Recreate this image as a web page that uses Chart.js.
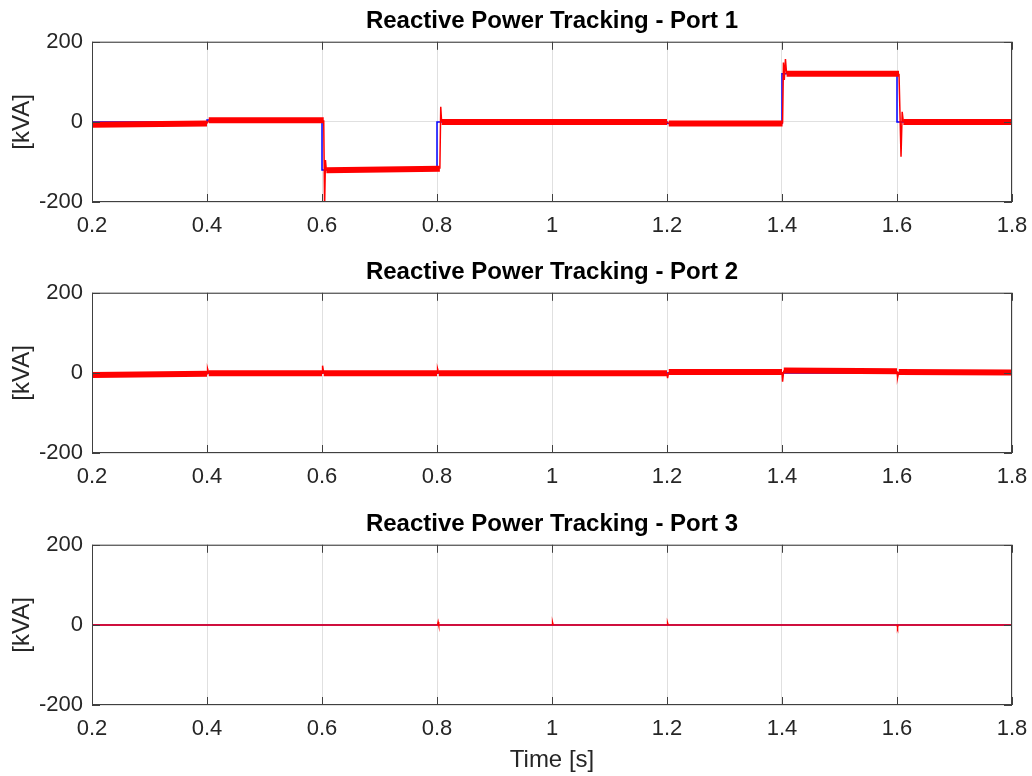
<!DOCTYPE html>
<html>
<head>
  <title>Reactive Power Tracking</title>
  <script src="https://cdn.jsdelivr.net/npm/chart.js"></script>
  <style>
    body { margin: 0; background: #fff; }
    canvas { position: absolute; left: 0; }
  </style>
</head>
<body>
  <canvas id="port1" width="1032" height="252" style="top:0px"></canvas>
  <canvas id="port2" width="1032" height="252" style="top:251px"></canvas>
  <canvas id="port3" width="1032" height="273" style="top:503px"></canvas>

  <script>
    const xTicks = [0.2, 0.4, 0.6, 0.8, 1.0, 1.2, 1.4, 1.6, 1.8];
    const yTicks = [-200, 0, 200];

    // Port 1 - reference (blue) and measured (red)
    const refTime1 = [0.2, 0.4, 0.4, 0.6, 0.6, 0.8, 0.8, 1.2, 1.2, 1.4, 1.4, 1.6, 1.6, 1.8];
    const refQ1 = [0, 0, 5, 5, -120, -120, 0, 0, -4, -4, 120, 120, 0, 0];
    const measTime1 = [0.2, 0.4, 0.403, 0.603, 0.6045, 0.606, 0.6075, 0.805, 0.8065, 0.808, 1.2, 1.203,
                       1.401, 1.4025, 1.404, 1.406, 1.408, 1.6035, 1.607, 1.609, 1.611, 1.8];
    const measQ1 = [-7, -4, 4, 4, -215, -95, -121, -117, 38, 0, 0, -4,
                    -4, 148, 105, 157, 120, 120, -87, 25, 0, 0];

    // Port 2
    const refTime2 = [0.2, 1.8];
    const refQ2 = [0, 0];
    const measTime2 = [0.2, 0.4, 0.401, 0.403, 0.6, 0.601, 0.603, 0.8, 0.801, 0.803,
                       1.2, 1.201, 1.203, 1.4, 1.401, 1.403, 1.6, 1.601, 1.603, 1.8];
    const measQ2 = [-5, -2, 10, -1, -1, 18, -1, -1, 10, -1,
                    -1, -13, 2, 2, -22, 6, 4, -12, 2, 1];

    // Port 3
    const refTime3 = [0.2, 1.8];
    const refQ3 = [0, 0];
    const measTime3 = [0.2, 0.801, 0.802, 0.803, 1.0, 1.001, 1.002, 1.2, 1.201, 1.202, 1.6, 1.601, 1.602, 1.8];
    const measQ3 = [0, 0, 7, 0, 0, 6, 0, 0, 5, 0, 0, -6, 0, 0];

    Chart.defaults.font.family = "'Liberation Sans', Arial, sans-serif";
    Chart.defaults.color = '#262626';

    // draws the axes box and the inward tick marks like matlab
    const boxPlugin = {
      id: 'box',
      afterDraw(chart) {
        const ctx = chart.ctx;
        const a = chart.chartArea;
        const x = chart.scales.x;
        const y = chart.scales.y;
        ctx.save();
        ctx.strokeStyle = '#404040';
        ctx.lineWidth = 1;
        ctx.strokeRect(a.left + 0.5, a.top + 0.5, a.right - a.left - 1, a.bottom - a.top - 1);
        ctx.beginPath();
        xTicks.forEach(v => {
          const px = Math.round(x.getPixelForValue(v)) + 0.5;
          ctx.moveTo(px, a.bottom); ctx.lineTo(px, a.bottom - 8);
          ctx.moveTo(px, a.top); ctx.lineTo(px, a.top + 8);
        });
        yTicks.forEach(v => {
          const py = Math.round(y.getPixelForValue(v)) + 0.5;
          ctx.moveTo(a.left, py); ctx.lineTo(a.left + 8, py);
          ctx.moveTo(a.right, py); ctx.lineTo(a.right - 8, py);
        });
        ctx.stroke();
        ctx.restore();
      }
    };

    function toPoints(times, values) {
      return times.map((t, i) => ({ x: t, y: values[i] }));
    }

    function makeChart(id, title, refT, refQ, measT, measQ, bandWidth, xTitle, xHeight) {
      new Chart(document.getElementById(id).getContext('2d'), {
        type: 'line',
        data: {
          datasets: [
            {
              label: 'Measured',
              data: toPoints(measT, measQ),
              borderColor: '#ff0000',
              borderWidth: bandWidth,
              pointRadius: 0,
              tension: 0,
              clip: 0,
              order: 1,
              // ripple band on steady parts, thin line on the transients
              segment: {
                borderWidth: c => (c.p1.parsed.x - c.p0.parsed.x > 0.02 ? bandWidth : 1.5)
              }
            },
            {
              label: 'Reference',
              data: toPoints(refT, refQ),
              borderColor: '#0000ff',
              borderWidth: 1.5,
              pointRadius: 0,
              tension: 0,
              clip: 0,
              order: 2
            }
          ]
        },
        options: {
          responsive: false,
          animation: false,
          layout: { padding: { left: 0, right: 20, top: 0, bottom: 0 } },
          plugins: {
            legend: { display: false },
            tooltip: { enabled: false },
            title: {
              display: true,
              fullSize: false,
              text: title,
              color: '#000',
              font: { size: 24, weight: 'bold' },
              padding: { top: 7, bottom: 6 }
            }
          },
          scales: {
            x: {
              type: 'linear',
              min: 0.2,
              max: 1.8,
              afterBuildTicks: s => { s.ticks = xTicks.map(v => ({ value: v })); },
              afterFit: s => { s.height = xHeight; s.paddingLeft = 0; s.paddingRight = 0; },
              grid: { color: '#e0e0e0', drawTicks: false },
              border: { display: false },
              ticks: {
                color: '#262626',
                font: { size: 22 },
                padding: 11,
                maxRotation: 0,
                autoSkip: false,
                callback: v => String(Math.round(v * 10) / 10)
              },
              title: {
                display: xTitle,
                text: 'Time [s]',
                color: '#262626',
                font: { size: 24 },
                padding: { top: 0, bottom: 1 }
              }
            },
            y: {
              min: -200,
              max: 200,
              afterBuildTicks: s => { s.ticks = yTicks.map(v => ({ value: v })); },
              afterFit: s => { s.width = 92; s.paddingTop = 0; s.paddingBottom = 0; },
              grid: { color: '#e0e0e0', drawTicks: false },
              border: { display: false },
              ticks: { color: '#262626', font: { size: 22 }, padding: 9 },
              title: {
                display: true,
                text: '[kVA]',
                color: '#262626',
                font: { size: 24 },
                padding: { top: 8, bottom: 0 }
              }
            }
          }
        },
        plugins: [boxPlugin]
      });
    }

    makeChart('port1', 'Reactive Power Tracking - Port 1', refTime1, refQ1, measTime1, measQ1, 6, false, 50);
    makeChart('port2', 'Reactive Power Tracking - Port 2', refTime2, refQ2, measTime2, measQ2, 6, false, 50);
    makeChart('port3', 'Reactive Power Tracking - Port 3', refTime3, refQ3, measTime3, measQ3, 1.5, true, 71);
  </script>
</body>
</html>
